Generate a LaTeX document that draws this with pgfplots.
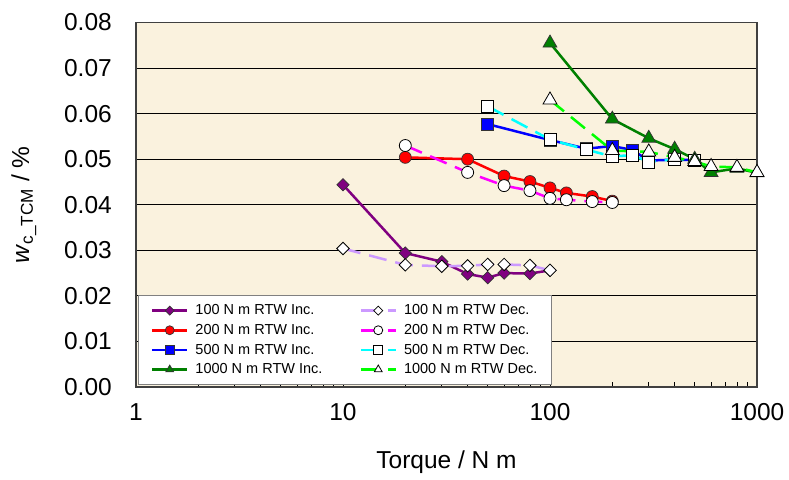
\documentclass[border=0pt]{standalone}
\usepackage{pgfplots}
\pgfplotsset{compat=1.18}
\usepackage{fontspec}
\setmainfont{Liberation Sans}
\definecolor{bg}{RGB}{250,242,222}
\definecolor{cPurple}{RGB}{128,0,128}
\definecolor{cLav}{RGB}{204,153,255}
\definecolor{cRed}{RGB}{255,0,0}
\definecolor{cMag}{RGB}{255,0,255}
\definecolor{cBlue}{RGB}{0,0,255}
\definecolor{cCyan}{RGB}{0,255,255}
\definecolor{cGreen}{RGB}{0,128,0}
\definecolor{cLime}{RGB}{0,255,0}
\pgfdeclareplotmark{dia}{%
  \pgfpathmoveto{\pgfqpoint{0pt}{\pgfplotmarksize}}%
  \pgfpathlineto{\pgfqpoint{\pgfplotmarksize}{0pt}}%
  \pgfpathlineto{\pgfqpoint{0pt}{-\pgfplotmarksize}}%
  \pgfpathlineto{\pgfqpoint{-\pgfplotmarksize}{0pt}}%
  \pgfpathclose
  \pgfusepathqfillstroke}
\pgfplotsset{
  inc/.style={solid, line width=2.5pt, mark options={solid, draw=black!80, line width=0.7pt}},
  dec/.style={dash pattern=on 18pt off 9pt, line width=2.5pt, mark options={solid, fill=white, draw=black, line width=0.8pt}},
}
\begin{document}
\begin{tikzpicture}
\useasboundingbox (-136pt,-92pt) rectangle (653pt,387pt);
\begin{axis}[
  at={(0,0)}, anchor=south west,
  scale only axis, width=621pt, height=364.5pt,
  xmode=log, xmin=1, xmax=1000, ymin=0, ymax=0.08,
  clip=false,
  xtick={1,10,100,1000},
  xticklabels={1,10,100,1000},
  ytick={0,0.01,0.02,0.03,0.04,0.05,0.06,0.07,0.08},
  scaled y ticks=false,
  yticklabel style={/pgf/number format/fixed, /pgf/number format/fixed zerofill, /pgf/number format/precision=2},
  /pgf/number format/assume math mode=true,
  ticklabel style={font=\fontsize{24.5}{28}\selectfont},
  yticklabel style={anchor=east, inner sep=0pt, xshift=-24pt},
  xticklabel style={anchor=north, inner sep=0pt, yshift=-16pt},
  tick align=inside,
  xtick pos=left, ytick pos=left,
  major tick length=5pt, minor tick length=5pt,
  tick style={black, line width=0.8pt},
  ymajorgrids, xmajorgrids=false,
  grid style={black, line width=0.8pt},
  axis line style={draw=black!75, line width=1.5pt},
  axis background/.style={fill=bg},
  label style={font=\fontsize{24.5}{28}\selectfont},
  xlabel={Torque / N m},
  ylabel={\textit{w}\textsubscript{c\_TCM} / \%},
  xlabel style={at={(axis description cs:0.5,-0.2058)}, anchor=center},
  ylabel style={at={(axis description cs:-0.1805,0.5)}, anchor=center},
  legend style={at={(axis description cs:0.004,0.006)}, anchor=south west,
    draw=gray, line width=1pt, fill=white,
    font=\fontsize{14.5}{17}\selectfont,
    row sep=4pt,
    /tikz/every odd column/.append style={column sep=5pt},
    /tikz/every even column/.append style={column sep=35pt},
    inner xsep=12pt, inner ysep=7pt},
  legend columns=2,
  legend cell align=left,
  legend image code/.code={\draw[mark repeat=2,mark phase=2,#1, mark size=4.5pt] plot coordinates {(0pt,0pt) (17.5pt,0pt) (35pt,0pt)};},
]
\addplot[inc, color=cPurple, mark=dia, mark size=6.2pt] coordinates {
(10,0.0444) (20,0.0294) (30,0.0275) (40,0.0248) (50,0.0240) (60,0.0250) (80,0.0249) (100,0.0256)};
\addlegendentry{100 N m RTW Inc.}
\addplot[dec, color=cLav, mark=dia, mark size=6.2pt] coordinates {
(10,0.0304) (20,0.0268) (30,0.0265) (40,0.0266) (50,0.0269) (60,0.0269) (80,0.0267) (100,0.0256)};
\addlegendentry{100 N m RTW Dec.}
\addplot[inc, color=cRed, mark=*, mark size=6pt] coordinates {
(20,0.0504) (40,0.0500) (60,0.0463) (80,0.0451) (100,0.0437) (120,0.0426) (160,0.0418) (200,0.0408)};
\addlegendentry{200 N m RTW Inc.}
\addplot[dec, color=cMag, mark=*, mark size=6pt] coordinates {
(20,0.0530) (40,0.0471) (60,0.0442) (80,0.0431) (100,0.0414) (120,0.0411) (160,0.0407) (200,0.0405)};
\addlegendentry{200 N m RTW Dec.}
\addplot[inc, color=cBlue, mark=square*, mark size=6pt] coordinates {
(50,0.0577) (100,0.0542) (150,0.0523) (200,0.0529) (250,0.0520) (300,0.0497) (400,0.0499) (500,0.0498)};
\addlegendentry{500 N m RTW Inc.}
\addplot[dec, color=cCyan, mark=square*, mark size=6pt] coordinates {
(50,0.0616) (100,0.0543) (150,0.0521) (200,0.0506) (250,0.0509) (300,0.0494) (400,0.0500) (500,0.0497)};
\addlegendentry{500 N m RTW Dec.}
\addplot[inc, color=cGreen, mark=triangle*, mark size=8pt] coordinates {
(100,0.0755) (200,0.0588) (300,0.0546) (400,0.0522) (500,0.0500) (600,0.0471) (800,0.0480) (1000,0.0470)};
\addlegendentry{1000 N m RTW Inc.}
\addplot[dec, color=cLime, mark=triangle*, mark size=8pt] coordinates {
(100,0.0630) (200,0.0519) (300,0.0516) (400,0.0504) (500,0.0495) (600,0.0484) (800,0.0482) (1000,0.0471)};
\addlegendentry{1000 N m RTW Dec.}
\end{axis}
\end{tikzpicture}
\end{document}
